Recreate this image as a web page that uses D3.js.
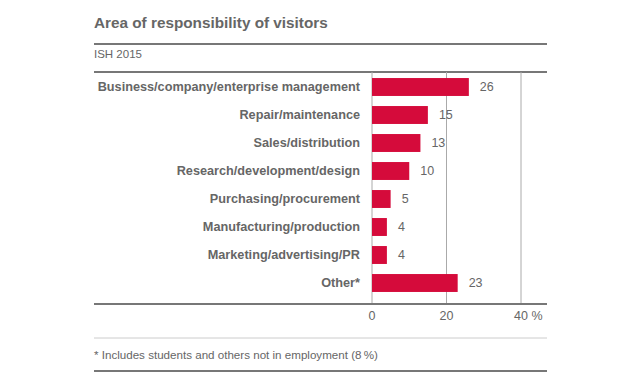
<!DOCTYPE html>
<html>
<head>
<meta charset="utf-8">
<script src="https://cdn.jsdelivr.net/npm/d3@7"></script>
<style>
    body { margin: 0; background: #fff; }
    svg { display: block; font-family: "Liberation Sans", Arial, sans-serif; }
</style>
</head>
<body>
<svg id="chart" width="640" height="386"></svg>
<script>
var categories = [
    'Business/company/enterprise management',
    'Repair/maintenance',
    'Sales/distribution',
    'Research/development/design',
    'Purchasing/procurement',
    'Manufacturing/production',
    'Marketing/advertising/PR',
    'Other*'
];
var values = [26, 15, 13, 10, 5, 4, 4, 23];
var xTicks = [0, 20, 40];
var tickLabels = ['0', '20', '40 %'];

var title = 'Area of responsibility of visitors';
var subtitle = 'ISH 2015';
var footnote = '* Includes students and others not in employment (8\u202f%)';

var svg = d3.select('#chart');

var left = 94, right = 547;
var textColor = '#666',
    lineColor = '#777',
    barColor = '#d50b3b';

var x = d3.scaleLinear().domain([0, 40]).range([372, 521]);
var y = d3.scaleBand().domain(categories).range([73, 297]).paddingInner(0.36).paddingOuter(0.18);

// header
svg.append('text')
    .attr('x', left).attr('y', 28)
    .attr('fill', textColor)
    .attr('font-weight', 'bold')
    .attr('font-size', 15.3)
    .text(title);

svg.append('line')
    .attr('x1', left).attr('x2', right)
    .attr('y1', 44).attr('y2', 44)
    .attr('stroke', lineColor).attr('stroke-width', 2);

svg.append('text')
    .attr('x', left).attr('y', 58)
    .attr('fill', textColor)
    .attr('font-size', 11.5)
    .text(subtitle);

svg.append('line')
    .attr('x1', left).attr('x2', right)
    .attr('y1', 72).attr('y2', 72)
    .attr('stroke', lineColor).attr('stroke-width', 2);

// grid
svg.append('g')
    .selectAll('line')
    .data(xTicks)
    .enter()
    .append('line')
    .attr('x1', function(d) { return x(d); })
    .attr('x2', function(d) { return x(d); })
    .attr('y1', 72).attr('y2', 304)
    .attr('stroke', '#aaa')
    .attr('stroke-width', 1);

// bars
var row = svg.append('g')
    .selectAll('g')
    .data(categories)
    .enter()
    .append('g');

row.append('rect')
    .attr('x', x(0))
    .attr('y', function(d) { return y(d); })
    .attr('width', function(d, i) { return x(values[i]) - x(0); })
    .attr('height', y.bandwidth())
    .attr('fill', barColor);

row.append('text')
    .attr('x', x(0) - 12)
    .attr('y', function(d) { return y(d) + y.bandwidth() / 2; })
    .attr('dy', '0.35em')
    .attr('text-anchor', 'end')
    .attr('font-weight', 'bold')
    .attr('font-size', 12.7)
    .attr('fill', textColor)
    .text(function(d) { return d; });

row.append('text')
    .attr('x', function(d, i) { return x(values[i]) + 11; })
    .attr('y', function(d) { return y(d) + y.bandwidth() / 2; })
    .attr('dy', '0.35em')
    .attr('font-size', 12.5)
    .attr('fill', textColor)
    .text(function(d, i) { return values[i]; });

// bottom axis
svg.append('line')
    .attr('x1', left).attr('x2', right)
    .attr('y1', 304).attr('y2', 304)
    .attr('stroke', lineColor).attr('stroke-width', 2);

svg.append('g')
    .selectAll('text')
    .data(xTicks)
    .enter()
    .append('text')
    .attr('x', function(d) { return x(d); })
    .attr('y', 320)
    .attr('text-anchor', function(d, i) { return i === xTicks.length - 1 ? 'start' : 'middle'; })
    .attr('dx', function(d, i) { return i === xTicks.length - 1 ? -7 : 0; })
    .attr('font-size', 12.5)
    .attr('fill', textColor)
    .text(function(d, i) { return tickLabels[i]; });

// footnote
svg.append('line')
    .attr('x1', left).attr('x2', right)
    .attr('y1', 338).attr('y2', 338)
    .attr('stroke', '#ccc').attr('stroke-width', 1);

svg.append('text')
    .attr('x', left).attr('y', 359)
    .attr('fill', textColor)
    .attr('font-size', 11.6)
    .text(footnote);

svg.append('line')
    .attr('x1', left).attr('x2', right)
    .attr('y1', 371).attr('y2', 371)
    .attr('stroke', lineColor).attr('stroke-width', 2);
</script>
</body>
</html>
